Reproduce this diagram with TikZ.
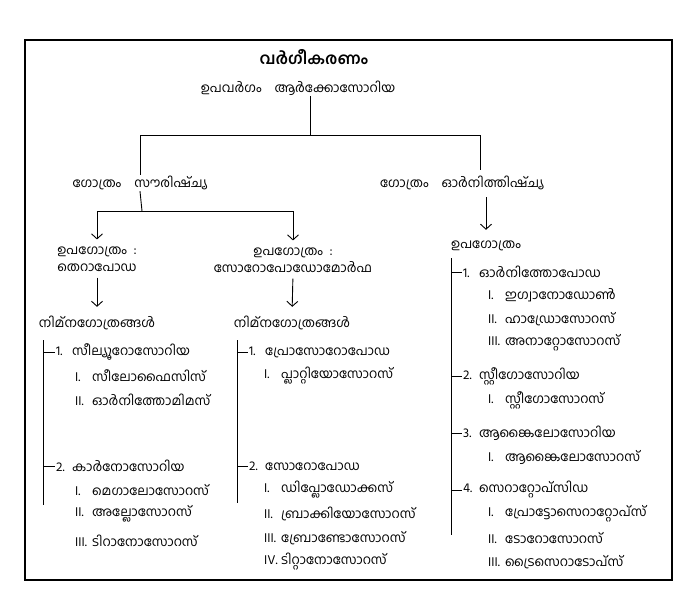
\documentclass[tikz,border=0pt]{standalone}
\usepackage{fontspec}
\newfontfamily\mlfont[Script=Malayalam]{Hind Kochi}
\usetikzlibrary{arrows.meta,positioning}

\newcommand{\nm}[2]{\makebox[16pt][l]{#1}#2}
\newcommand{\rn}[2]{\makebox[17pt][l]{#1}#2}

\begin{document}
\begin{tikzpicture}[
  x=1pt,y=-1pt,
  t/.style={font=\mlfont\fontsize{13}{17}\selectfont,inner sep=1pt},
  li/.style={t,anchor=west},
  l/.style={line width=0.9pt},
  a/.style={l,-{Straight Barb[length=5pt,width=11pt]}}
]
\useasboundingbox (0,0) rectangle (700,597);
\draw[line width=1.2pt] (25,40) rectangle (672,580);

% top of the tree
\node[font=\mlfont\bfseries\fontsize{16}{18}\selectfont,inner sep=1pt] (title) at (314,57) {വർഗീകരണം};
\node[t] (sub) at (298,88) {ഉപവർഗം\quad ആർക്കോസോറിയ};
\node[t] (gs) at (140,183) {ഗോത്രം\quad സൗരിഷ്ച്യ};
\node[t] (go) at (462,183) {ഗോത്രം\quad ഓർനിത്തിഷ്ച്യ};
\coordinate (j0) at (310,135);
\draw[l] (sub.south -| j0) -- (j0) -| (gs.north);
\draw[l] (j0) -| (480,170);

% saurischia
\node[t,align=center] (tp) at (97,259) {ഉപഗോത്രം\enspace:\\തെറാപോഡ};
\node[t,align=center] (sp) at (293,260) {ഉപഗോത്രം\enspace:\\സോറോപോഡോമോർഫ};
\coordinate (j1) at (142,211);
\draw[l] (gs.south) -- (j1);
\draw[a,shorten >=6pt] (j1) -| (tp.north);
\draw[a,shorten >=6pt] (j1) -| (sp.north);
\node[t] (tn) at (97,323) {നിമ്നഗോത്രങ്ങൾ};
\node[t] (sn) at (292,323) {നിമ്നഗോത്രങ്ങൾ};
\draw[a,shorten <=5pt,shorten >=8pt] (tp.south) -- (tn.north);
\draw[a,shorten <=5pt,shorten >=8pt] (sp.south) -- (sn.north);

% ornithischia
\node[t] (gu) at (486,246) {ഉപഗോത്രം};
\draw[a,shorten <=6pt,shorten >=10pt] (gu.north |- go.south) -- (gu.north);

% theropoda list
\node[li] (l1) at (55,352) {\nm{1.}{സീല്യൂറോസോറിയ}};
\node[li] (l1a) at (74,376) {\rn{I.}{സീലോഫൈസിസ്}};
\node[li] (l1b) at (74,400) {\rn{II.}{ഓർനിത്തോമിമസ്}};
\node[li] (l2) at (55,466) {\nm{2.}{കാർനോസോറിയ}};
\node[li] (l2a) at (74,490) {\rn{I.}{മെഗാലോസോറസ്}};
\node[li] (l2b) at (74,514) {\rn{II.}{അല്ലോസോറസ്}};
\node[li] (l2c) at (74,541) {\rn{III.}{ടിറാനോസോറസ്}};
\draw[l] (43,340) -- (43,505);
\foreach \n in {l1,l2} \draw[l] (\n.west -| 43,0) -- (\n.west);

% sauropodomorpha list
\node[li] (m1) at (248,352) {\nm{1.}{പ്രോസോറോപോഡ}};
\node[li] (m1a) at (263,376) {\rn{I.}{പ്ലാറ്റിയോസോറസ്}};
\node[li] (m2) at (248,466) {\nm{2.}{സോറോപോഡ}};
\node[li] (m2a) at (263,490) {\rn{I.}{ഡിപ്ലോഡോക്കസ്}};
\node[li] (m2b) at (263,514) {\rn{II.}{ബ്രാക്കിയോസോറസ്}};
\node[li] (m2c) at (263,538) {\rn{III.}{ബ്രോണ്ടോസോറസ്}};
\node[li] (m2d) at (263,562) {\rn{IV.}{ടിറ്റാനോസോറസ്}};
\draw[l] (237,340) -- (237,503);
\foreach \n in {m1,m2} \draw[l] (\n.west -| 237,0) -- (\n.west);

% ornithischia list
\node[li] (r1) at (462,272) {\nm{1.}{ഓർനിത്തോപോഡ}};
\node[li] (r1a) at (487,295) {\rn{I.}{ഇഗ്വാനോഡോൺ}};
\node[li] (r1b) at (487,319) {\rn{II.}{ഹാഡ്രോസോറസ്}};
\node[li] (r1c) at (487,343) {\rn{III.}{അനാറ്റോസോറസ്}};
\node[li] (r2) at (462,376) {\nm{2.}{സ്റ്റീഗോസോറിയ}};
\node[li] (r2a) at (487,400) {\rn{I.}{സ്റ്റീഗോസോറസ്}};
\node[li] (r3) at (462,433) {\nm{3.}{ആങ്കൈലോസോറിയ}};
\node[li] (r3a) at (487,457) {\rn{I.}{ആങ്കൈലോസോറസ്}};
\node[li] (r4) at (462,490) {\nm{4.}{സെറാറ്റോപ്സിഡ}};
\node[li] (r4a) at (487,514) {\rn{I.}{പ്രോട്ടോസെറാറ്റോപ്സ്}};
\node[li] (r4b) at (487,538) {\rn{II.}{ടോറോസോറസ്}};
\node[li] (r4c) at (487,562) {\rn{III.}{ട്രൈസെറാടോപ്സ്}};
\draw[l] (451,258) -- (451,535);
\foreach \n in {r1,r2,r3,r4} \draw[l] (\n.west -| 451,0) -- (\n.west);
\end{tikzpicture}
\end{document}
